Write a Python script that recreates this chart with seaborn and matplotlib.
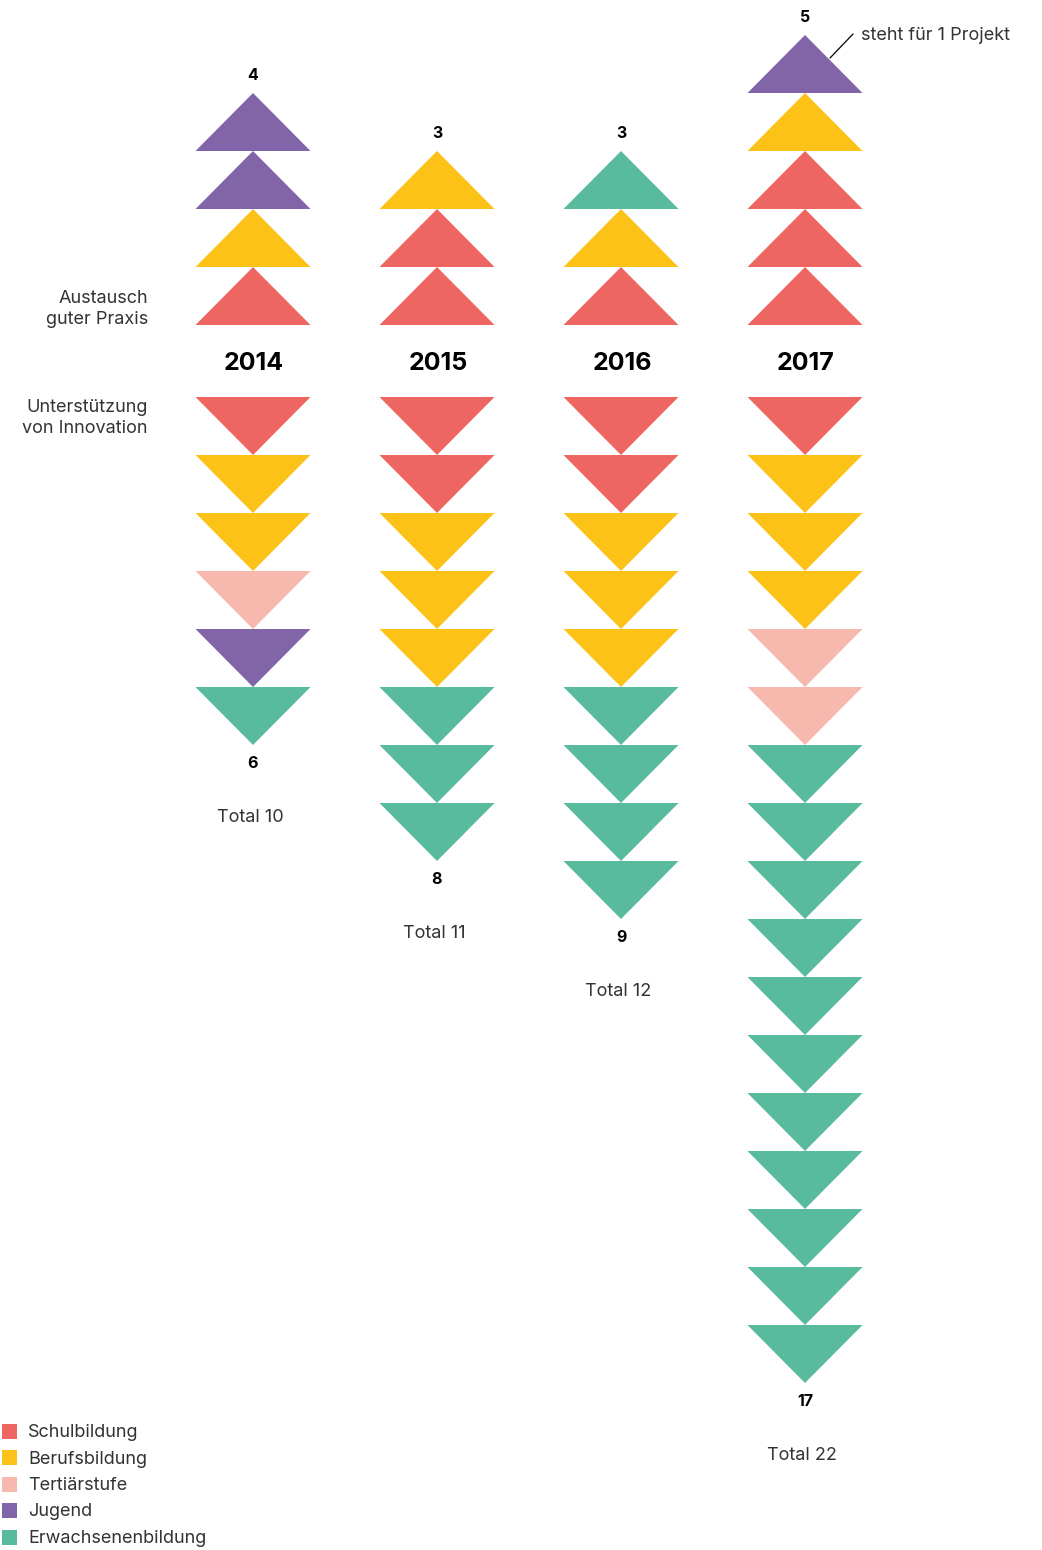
import matplotlib
matplotlib.use("Agg")
import matplotlib.pyplot as plt
import seaborn as sns
from matplotlib.patches import Polygon, Rectangle

# Daten
jahre = ["2014", "2015", "2016", "2017"]
bereiche = ["Schulbildung", "Berufsbildung", "Tertiärstufe", "Jugend", "Erwachsenenbildung"]
farben = ["#EE6661", "#FDC218", "#F7B8AD", "#8264A8", "#58BB9D"]

# Austausch guter Praxis (von unten nach oben)
austausch = [
    ["Schulbildung", "Berufsbildung", "Jugend", "Jugend"],
    ["Schulbildung", "Schulbildung", "Berufsbildung"],
    ["Schulbildung", "Berufsbildung", "Erwachsenenbildung"],
    ["Schulbildung", "Schulbildung", "Schulbildung", "Berufsbildung", "Jugend"],
]
# Unterstützung von Innovation (von oben nach unten)
innovation = [
    ["Schulbildung", "Berufsbildung", "Berufsbildung", "Tertiärstufe", "Jugend",
     "Erwachsenenbildung"],
    ["Schulbildung", "Schulbildung"] + ["Berufsbildung"] * 3 + ["Erwachsenenbildung"] * 3,
    ["Schulbildung", "Schulbildung"] + ["Berufsbildung"] * 3 + ["Erwachsenenbildung"] * 4,
    ["Schulbildung"] + ["Berufsbildung"] * 3 + ["Tertiärstufe"] * 2 + ["Erwachsenenbildung"] * 11,
]
totals = [10, 11, 12, 22]

farbe = dict(zip(bereiche, farben))

sns.set_theme(style="white")
plt.rcParams["font.family"] = ["Inter", "DejaVu Sans"]

W, H = 1042, 1550
fig = plt.figure(figsize=(W / 100, H / 100), dpi=100)
ax = fig.add_axes([0, 0, 1, 1])
ax.set_xlim(0, W)
ax.set_ylim(H, 0)
ax.axis("off")

# Layout
x0, dx = 253, 184
tw, th = 115, 58
base_up, base_down = 325, 397
grau = "#333333"

for i, jahr in enumerate(jahre):
    xc = x0 + dx * i
    # obere Dreiecke
    for k, b in enumerate(austausch[i]):
        yb = base_up - k * th
        ax.add_patch(Polygon([(xc - tw / 2, yb), (xc + tw / 2, yb), (xc, yb - th)],
                             closed=True, facecolor=farbe[b], edgecolor="none"))
    top = base_up - len(austausch[i]) * th
    ax.text(xc, top - 17, str(len(austausch[i])), ha="center", va="center",
            fontsize=11.5, fontweight="bold", color="black")
    # untere Dreiecke
    for k, b in enumerate(innovation[i]):
        yt = base_down + k * th
        ax.add_patch(Polygon([(xc - tw / 2, yt), (xc + tw / 2, yt), (xc, yt + th)],
                             closed=True, facecolor=farbe[b], edgecolor="none"))
    bottom = base_down + len(innovation[i]) * th
    ax.text(xc, bottom + 19, str(len(innovation[i])), ha="center", va="center",
            fontsize=11.5, fontweight="bold", color="black")
    ax.text(xc - 3, bottom + 73, f"Total {totals[i]}", ha="center", va="center",
            fontsize=13, color=grau)
    # Jahr
    ax.text(xc + 1, (base_up + base_down) / 2 + 2, jahr, ha="center", va="center",
            fontsize=18, fontweight="bold", color="black")

# Beschriftung links
ax.text(148, 309, "Austausch\nguter Praxis", ha="right", va="center",
        fontsize=13, color=grau, linespacing=1.3)
ax.text(148, 418, "Unterstützung\nvon Innovation", ha="right", va="center",
        fontsize=13, color=grau, linespacing=1.3)

# Hinweis
ax.plot([830, 853], [58, 34], color="black", lw=0.9)
ax.text(861, 35, "steht für 1 Projekt", ha="left", va="center",
        fontsize=13, color=grau)

# Legende
for j, (b, c) in enumerate(zip(bereiche, farben)):
    yc = 1431 + j * 26.5
    ax.add_patch(Rectangle((2, yc - 7.5), 15, 15, facecolor=c, edgecolor="none"))
    ax.text(28, yc + 1.5, b, ha="left", va="center", fontsize=13, color=grau)

fig.savefig("out.png", dpi=100)
plt.close(fig)
